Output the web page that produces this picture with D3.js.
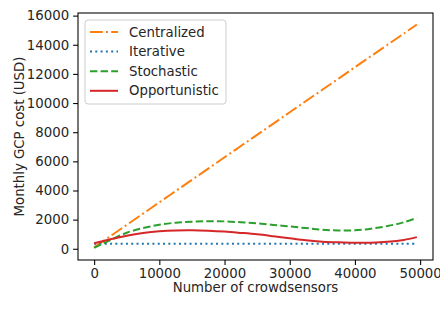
<!DOCTYPE html>
<html>
<head>
<meta charset="utf-8">
<script src="https://cdn.jsdelivr.net/npm/d3@7"></script>
<style>
  body { margin: 0; background: #fff; }
  svg text { font-family: "DejaVu Sans", sans-serif; fill: #262626; }
</style>
</head>
<body>
<svg id="chart" width="440" height="309"></svg>
<script>
// number of crowdsensors (x samples)
var sensors = [0, 2500, 5000, 7500, 10000, 12500, 15000, 17500, 20000, 22500, 25000,
               27500, 30000, 32500, 35000, 37500, 40000, 42500, 45000, 47500, 49500];

// monthly cost per approach
var centralized = [100, 870, 1640, 2410, 3190, 3960, 4730, 5500, 6280, 7050, 7820,
                   8590, 9370, 10140, 10910, 11680, 12460, 13230, 14000, 14770, 15390];
var iterative = [350, 350, 350, 350, 350, 350, 350, 350, 350, 350, 350,
                 350, 350, 350, 350, 350, 350, 350, 350, 350, 350];
var stochastic = [70, 600, 1100, 1420, 1650, 1790, 1860, 1890, 1880, 1820, 1750,
                  1640, 1530, 1420, 1310, 1260, 1270, 1380, 1560, 1820, 2120];
var opportunistic = [380, 660, 900, 1080, 1200, 1260, 1270, 1240, 1180, 1090, 990,
                     860, 720, 580, 490, 440, 410, 420, 480, 610, 800];

var xTicks = [0, 10000, 20000, 30000, 40000, 50000];
var yTicks = [0, 2000, 4000, 6000, 8000, 10000, 12000, 14000, 16000];

var series = [
  { name: "Centralized", values: centralized, color: "#ff7f0e", dash: "12.8,3.2,2,3.2" },
  { name: "Iterative", values: iterative, color: "#1f77b4", dash: "2,3.3" },
  { name: "Stochastic", values: stochastic, color: "#2ca02c", dash: "7.4,3.2" },
  { name: "Opportunistic", values: opportunistic, color: "#d62728", dash: null }
];

var m = [13, 7, 49, 78]; // top right bottom left
var W = 440, H = 309;

var x = d3.scaleLinear().domain([-2475, 51975]).range([m[3], W - m[1]]);
var y = d3.scaleLinear().domain([-770, 16180]).range([H - m[2], m[0]]);

var svg = d3.select("#chart");

var line = d3.line()
    .x(function(d, i) { return x(sensors[i]); })
    .y(function(d) { return y(d); })
    .curve(d3.curveCatmullRom);

svg.append("g").selectAll("path")
    .data(series)
  .enter().append("path")
    .attr("d", function(d) { return line(d.values); })
    .attr("fill", "none")
    .attr("stroke", function(d) { return d.color; })
    .attr("stroke-width", 2)
    .attr("stroke-dasharray", function(d) { return d.dash; });

// axes
var xAxis = svg.append("g")
    .attr("transform", "translate(0," + (H - m[2]) + ")")
    .call(d3.axisBottom(x).tickValues(xTicks).tickSize(4.9).tickPadding(4).tickFormat(d3.format("d")));
var yAxis = svg.append("g")
    .attr("transform", "translate(" + m[3] + ",0)")
    .call(d3.axisLeft(y).tickValues(yTicks).tickSize(4.9).tickPadding(4).tickFormat(d3.format("d")));

[xAxis, yAxis].forEach(function(a) {
  a.select(".domain").remove();
  a.selectAll(".tick line").attr("stroke", "#000").attr("stroke-width", 1.07);
  a.selectAll(".tick text").attr("font-size", "13.3px").attr("fill", "#262626")
    .attr("font-family", "DejaVu Sans, sans-serif");
});

// frame
svg.append("rect")
    .attr("x", m[3]).attr("y", m[0])
    .attr("width", W - m[1] - m[3]).attr("height", H - m[0] - m[2])
    .attr("fill", "none").attr("stroke", "#000").attr("stroke-width", 1.07);

// axis titles
svg.append("text")
    .attr("x", (m[3] + W - m[1]) / 2).attr("y", 292)
    .attr("text-anchor", "middle").attr("font-size", "13.3px")
    .text("Number of crowdsensors");
svg.append("text")
    .attr("transform", "translate(24," + ((m[0] + H - m[2]) / 2) + ") rotate(-90)")
    .attr("text-anchor", "middle").attr("font-size", "13.3px")
    .text("Monthly GCP cost (USD)");

// legend
var legend = svg.append("g").attr("transform", "translate(85,20)");
legend.append("rect")
    .attr("width", 141).attr("height", 84).attr("rx", 3)
    .attr("fill", "#fff").attr("fill-opacity", 0.8)
    .attr("stroke", "#ccc").attr("stroke-width", 1);
var item = legend.selectAll("g.item")
    .data(series)
  .enter().append("g")
    .attr("class", "item")
    .attr("transform", function(d, i) { return "translate(0," + (12 + i * 19.6) + ")"; });
item.append("line")
    .attr("x1", 5).attr("x2", 33)
    .attr("stroke", function(d) { return d.color; })
    .attr("stroke-width", 2)
    .attr("stroke-dasharray", function(d) { return d.dash; });
item.append("text")
    .attr("x", 44).attr("dy", "0.35em")
    .attr("font-size", "13.3px")
    .text(function(d) { return d.name; });
</script>
</body>
</html>
